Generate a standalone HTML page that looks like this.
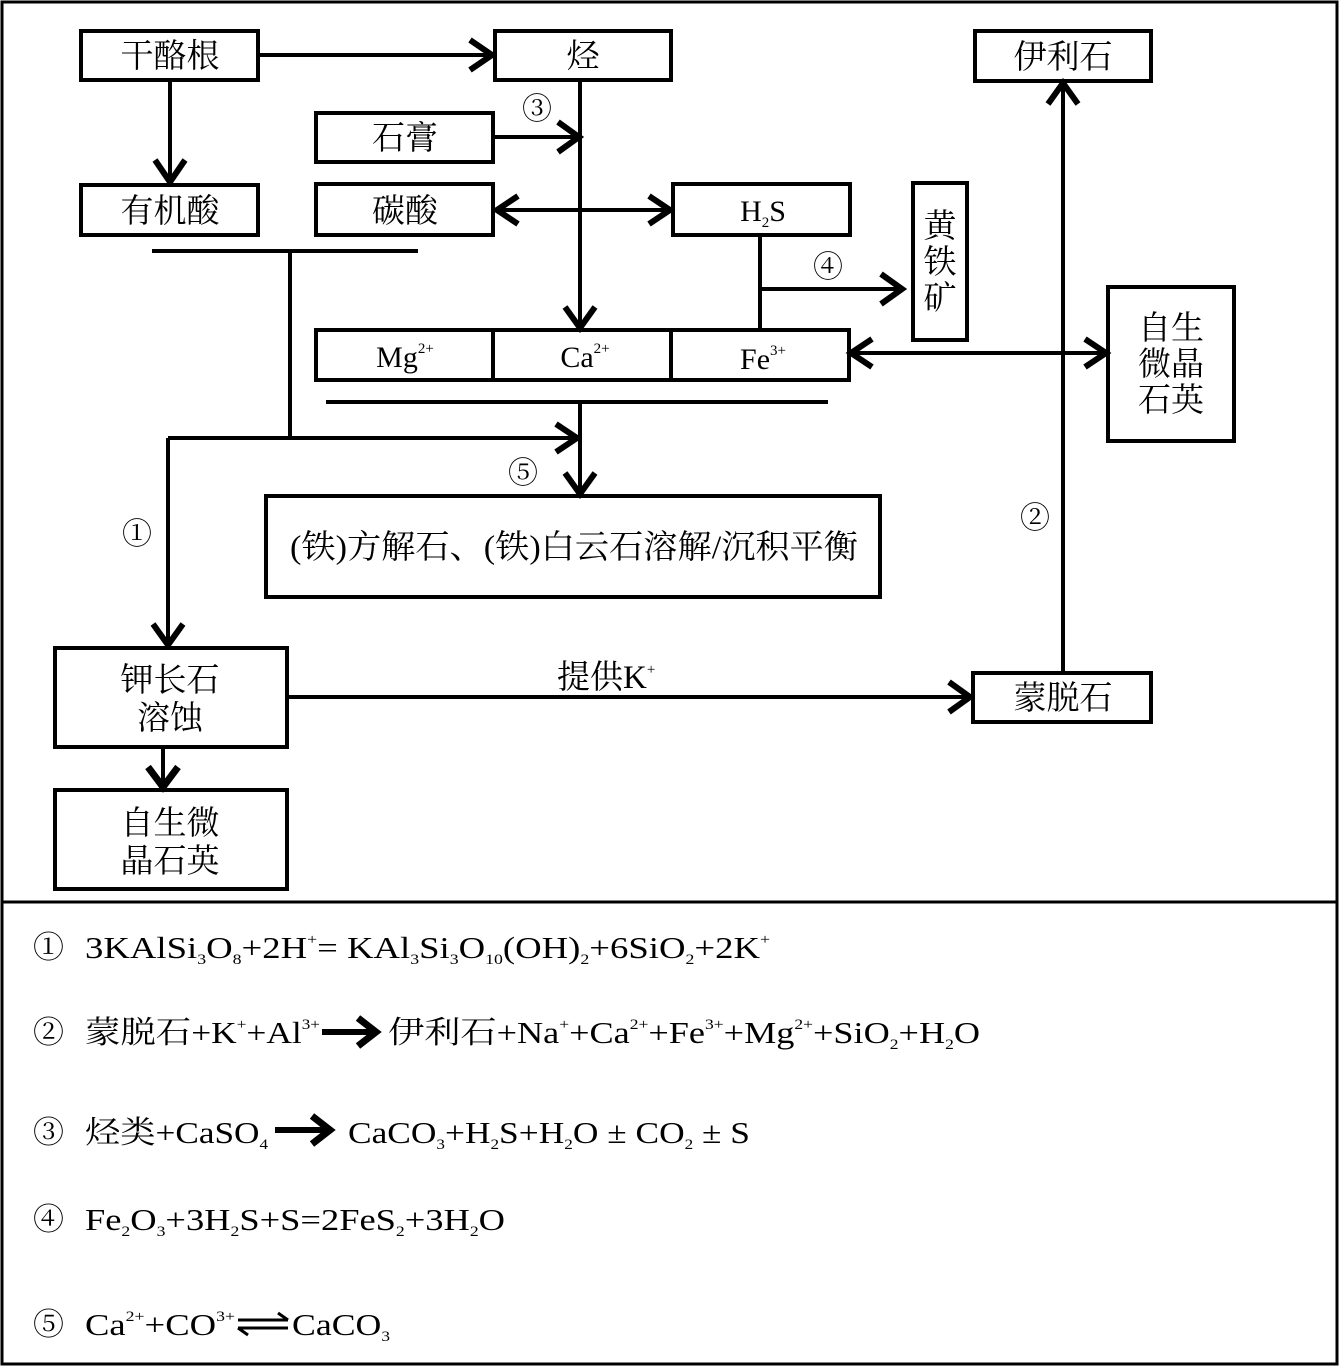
<!DOCTYPE html>
<html><head><meta charset="utf-8"><style>
html,body{margin:0;padding:0;background:#fff}
svg{display:block}
text{font-family:"Liberation Serif","Noto Serif CJK SC",serif;fill:#000}
.c{text-anchor:middle}
</style></head><body>
<svg width="1339" height="1367" viewBox="0 0 1339 1367" xmlns="http://www.w3.org/2000/svg">
<g fill="none" stroke="#000" stroke-width="4">
<rect x="2" y="2" width="1335" height="1362" stroke-width="3"/>
<line x1="2" y1="902" x2="1337" y2="902" stroke-width="3"/>
<rect x="81" y="31" width="177" height="49"/>
<rect x="495" y="31" width="176" height="49"/>
<rect x="975" y="31" width="176" height="50"/>
<rect x="316" y="113" width="177" height="49"/>
<rect x="81" y="185" width="177" height="50"/>
<rect x="316" y="184" width="177" height="51"/>
<rect x="673" y="184" width="177" height="51"/>
<rect x="913" y="183" width="54" height="157"/>
<rect x="1108" y="287" width="126" height="154"/>
<rect x="316" y="330" width="533" height="50"/>
<line x1="493" y1="330" x2="493" y2="380"/>
<line x1="671" y1="330" x2="671" y2="380"/>
<rect x="266" y="496" width="614" height="101"/>
<rect x="55" y="648" width="232" height="99"/>
<rect x="973" y="673" width="178" height="49"/>
<rect x="55" y="790" width="232" height="99"/>
</g>
<g fill="none" stroke="#000" stroke-width="4">
<line x1="258" y1="55" x2="493" y2="55"/>
<polyline points="470,40 492,55 470,70" stroke-width="6"/>
<line x1="170" y1="80" x2="170" y2="183"/>
<polyline points="155,160 170,182 185,160" stroke-width="6"/>
<line x1="152" y1="251" x2="418" y2="251"/>
<line x1="290" y1="251" x2="290" y2="438"/>
<line x1="168" y1="438" x2="578" y2="438"/>
<polyline points="556,424 577,438 556,452" stroke-width="6"/>
<line x1="168" y1="438" x2="168" y2="646"/>
<polyline points="153,624 168,645 183,624" stroke-width="6"/>
<line x1="580" y1="80" x2="580" y2="328"/>
<polyline points="565,307 580,328 595,307" stroke-width="6"/>
<line x1="493" y1="137" x2="580" y2="137"/>
<polyline points="558,122 579,137 558,152" stroke-width="6"/>
<line x1="495" y1="210" x2="671" y2="210"/>
<polyline points="518,196 497,210 518,224" stroke-width="6"/>
<polyline points="649,196 670,210 649,224" stroke-width="6"/>
<line x1="760" y1="235" x2="760" y2="330"/>
<line x1="760" y1="289" x2="903" y2="289"/>
<polyline points="881,274 902,289 881,304" stroke-width="6"/>
<line x1="851" y1="353" x2="1106" y2="353"/>
<polyline points="872,339 851,353 872,367" stroke-width="6"/>
<polyline points="1085,339 1106,353 1085,367" stroke-width="6"/>
<line x1="326" y1="402" x2="828" y2="402"/>
<line x1="580" y1="402" x2="580" y2="494"/>
<polyline points="565,473 580,494 595,473" stroke-width="6"/>
<line x1="287" y1="697" x2="971" y2="697"/>
<polyline points="949,682 970,697 949,712" stroke-width="6"/>
<line x1="1063" y1="673" x2="1063" y2="83"/>
<polyline points="1048,104 1063,83 1078,104" stroke-width="6"/>
<line x1="163" y1="747" x2="163" y2="788"/>
<polyline points="148,767 163,787 178,767" stroke-width="7"/>
</g>
<g font-size="33">
<text class="c" x="170" y="67">干酪根</text>
<text class="c" x="583" y="67">烃</text>
<text class="c" x="1063" y="68">伊利石</text>
<text class="c" x="405" y="149">石膏</text>
<text class="c" x="170" y="222">有机酸</text>
<text class="c" x="405" y="222">碳酸</text>
<text class="c" x="763" y="221" font-size="30">H<tspan font-size="15" dy="6">2</tspan><tspan dy="-6">S</tspan></text>
<text class="c" x="940" y="237">黄</text>
<text class="c" x="940" y="273">铁</text>
<text class="c" x="940" y="309">矿</text>
<text class="c" x="1171" y="339">自生</text>
<text class="c" x="1171" y="375">微晶</text>
<text class="c" x="1171" y="411">石英</text>
<text class="c" x="405" y="367" font-size="30">Mg<tspan font-size="15" dy="-14">2+</tspan></text>
<text class="c" x="585" y="367" font-size="30">Ca<tspan font-size="15" dy="-14">2+</tspan></text>
<text class="c" x="763" y="369" font-size="30">Fe<tspan font-size="15" dy="-14">3+</tspan></text>
<text x="290" y="558" textLength="568" lengthAdjust="spacingAndGlyphs">(铁)方解石、(铁)白云石溶解/沉积平衡</text>
<text class="c" x="170" y="691">钾长石</text>
<text class="c" x="170" y="729">溶蚀</text>
<text class="c" x="1063" y="709">蒙脱石</text>
<text class="c" x="170" y="834">自生微</text>
<text class="c" x="170" y="872">晶石英</text>
<text x="557" y="688">提供K<tspan font-size="15" dy="-14">+</tspan></text>
<text class="c" x="537" y="119" font-size="30">③</text>
<text class="c" x="828" y="277" font-size="30">④</text>
<text class="c" x="523" y="483" font-size="30">⑤</text>
<text class="c" x="137" y="544" font-size="30">①</text>
<text class="c" x="1035" y="528" font-size="30">②</text>
</g>
<g font-size="31">
<text x="33" y="958">①</text>
<text x="33" y="1043">②</text>
<text x="33" y="1143">③</text>
<text x="33" y="1230">④</text>
<text x="33" y="1335">⑤</text>
<text x="85" y="958" textLength="685" lengthAdjust="spacingAndGlyphs">3KAlSi<tspan font-size="15" dy="6">3</tspan><tspan dy="-6">O</tspan><tspan font-size="15" dy="6">8</tspan><tspan dy="-6">+2H</tspan><tspan font-size="15" dy="-14">+</tspan><tspan dy="14">= KAl</tspan><tspan font-size="15" dy="6">3</tspan><tspan dy="-6">Si</tspan><tspan font-size="15" dy="6">3</tspan><tspan dy="-6">O</tspan><tspan font-size="15" dy="6">10</tspan><tspan dy="-6">(OH)</tspan><tspan font-size="15" dy="6">2</tspan><tspan dy="-6">+6SiO</tspan><tspan font-size="15" dy="6">2</tspan><tspan dy="-6">+2K</tspan><tspan font-size="15" dy="-14">+</tspan></text>
<text x="85" y="1043" textLength="235" lengthAdjust="spacingAndGlyphs">蒙脱石+K<tspan font-size="15" dy="-14">+</tspan><tspan dy="14">+Al</tspan><tspan font-size="15" dy="-14">3+</tspan></text>
<text x="388" y="1043" textLength="592" lengthAdjust="spacingAndGlyphs">伊利石+Na<tspan font-size="15" dy="-14">+</tspan><tspan dy="14">+Ca</tspan><tspan font-size="15" dy="-14">2+</tspan><tspan dy="14">+Fe</tspan><tspan font-size="15" dy="-14">3+</tspan><tspan dy="14">+Mg</tspan><tspan font-size="15" dy="-14">2+</tspan><tspan dy="14">+SiO</tspan><tspan font-size="15" dy="6">2</tspan><tspan dy="-6">+H</tspan><tspan font-size="15" dy="6">2</tspan><tspan dy="-6">O</tspan></text>
<text x="85" y="1143" textLength="183" lengthAdjust="spacingAndGlyphs">烃类+CaSO<tspan font-size="15" dy="6">4</tspan></text>
<text x="348" y="1143" textLength="402" lengthAdjust="spacingAndGlyphs">CaCO<tspan font-size="15" dy="6">3</tspan><tspan dy="-6">+H</tspan><tspan font-size="15" dy="6">2</tspan><tspan dy="-6">S+H</tspan><tspan font-size="15" dy="6">2</tspan><tspan dy="-6">O ± CO</tspan><tspan font-size="15" dy="6">2</tspan><tspan dy="-6"> ± S</tspan></text>
<text x="85" y="1230" textLength="420" lengthAdjust="spacingAndGlyphs">Fe<tspan font-size="15" dy="6">2</tspan><tspan dy="-6">O</tspan><tspan font-size="15" dy="6">3</tspan><tspan dy="-6">+3H</tspan><tspan font-size="15" dy="6">2</tspan><tspan dy="-6">S+S=2FeS</tspan><tspan font-size="15" dy="6">2</tspan><tspan dy="-6">+3H</tspan><tspan font-size="15" dy="6">2</tspan><tspan dy="-6">O</tspan></text>
<text x="85" y="1335" textLength="150" lengthAdjust="spacingAndGlyphs">Ca<tspan font-size="15" dy="-14">2+</tspan><tspan dy="14">+CO</tspan><tspan font-size="15" dy="-14">3+</tspan></text>
<text x="292" y="1335" textLength="98" lengthAdjust="spacingAndGlyphs">CaCO<tspan font-size="15" dy="6">3</tspan></text>
</g>
<g fill="none" stroke="#000">
<line x1="322" y1="1032" x2="372" y2="1032" stroke-width="6"/>
<polyline points="358,1018 376,1032 358,1046" stroke-width="7"/>
<line x1="275" y1="1130" x2="326" y2="1130" stroke-width="6"/>
<polyline points="312,1116 330,1130 312,1144" stroke-width="7"/>
<line x1="238" y1="1320" x2="288" y2="1320" stroke-width="3"/>
<line x1="278" y1="1313" x2="288" y2="1320" stroke-width="3"/>
<line x1="238" y1="1328" x2="288" y2="1328" stroke-width="3"/>
<line x1="238" y1="1328" x2="248" y2="1335" stroke-width="3"/>
</g>
</svg>
</body></html>
